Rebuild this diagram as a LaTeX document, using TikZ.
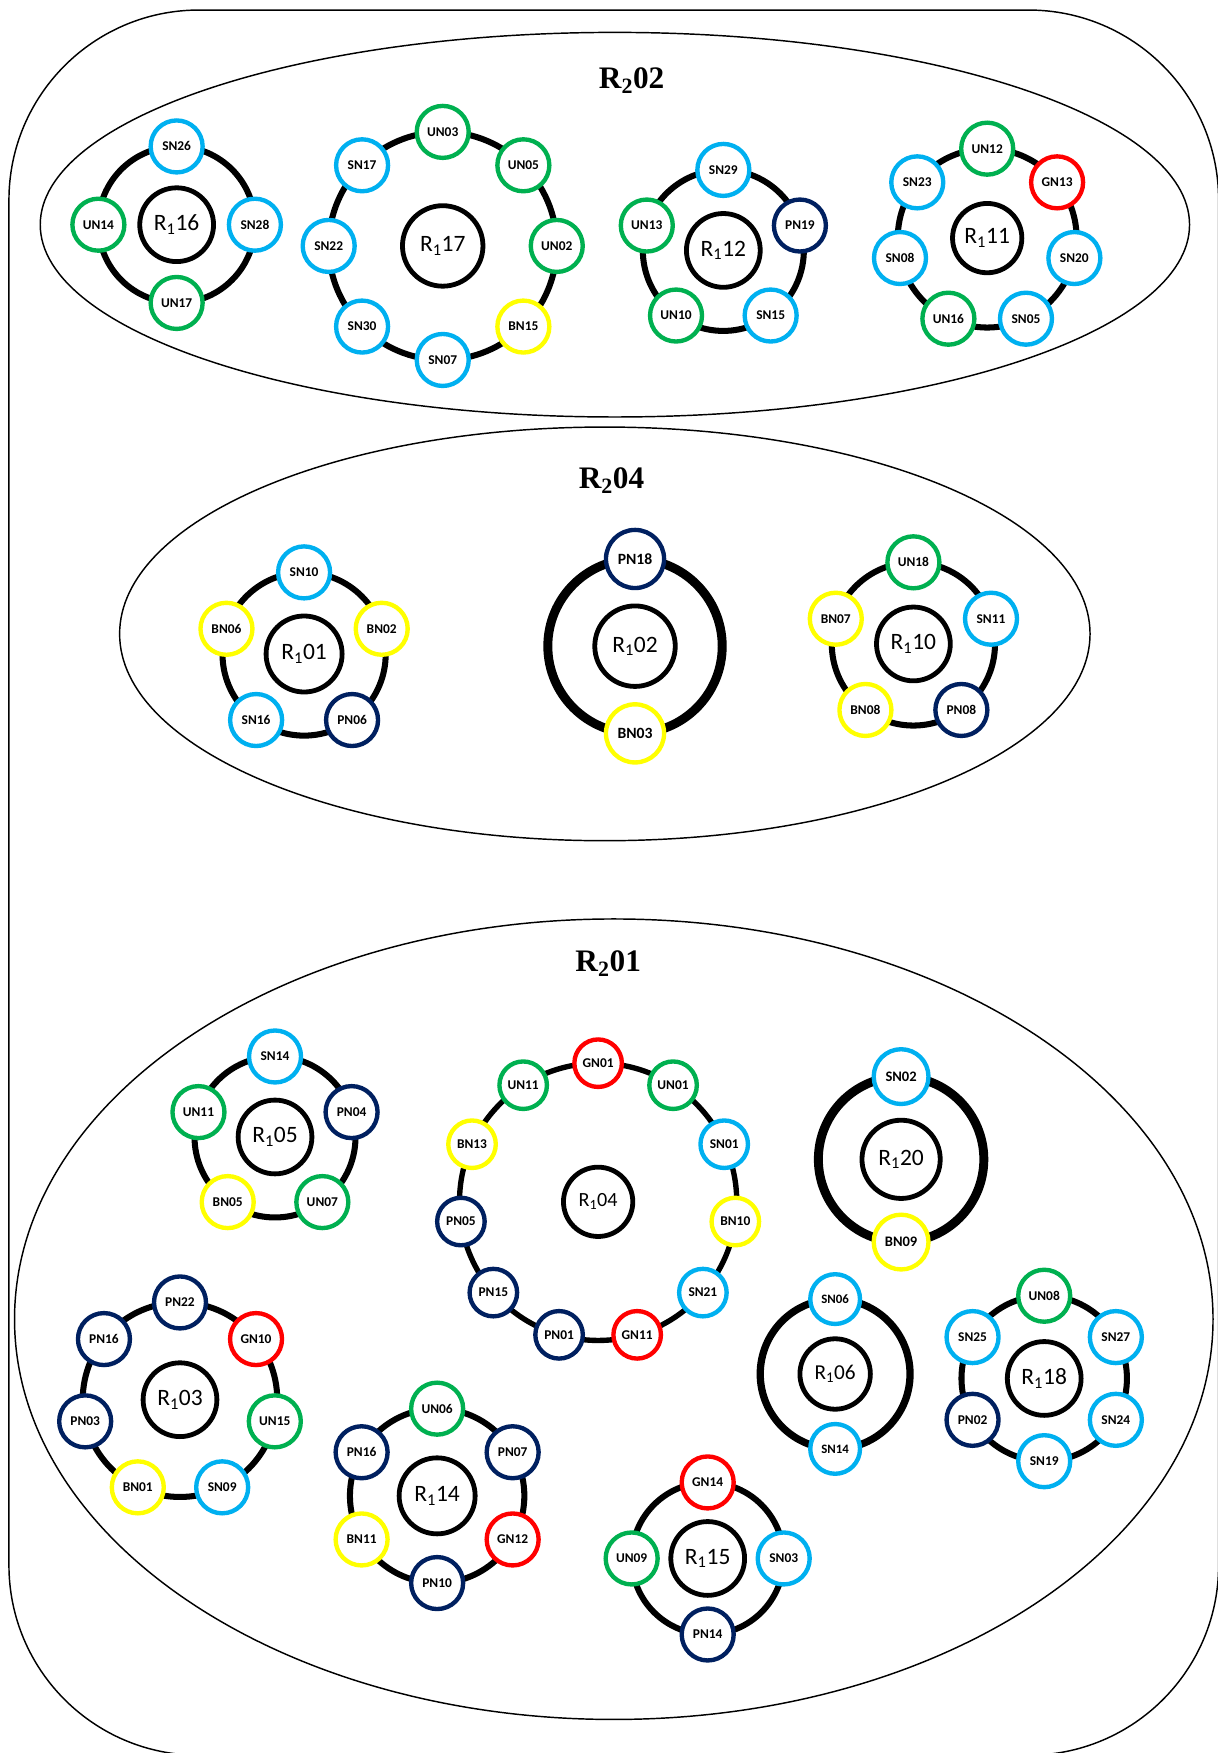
\documentclass[tikz,border=0pt]{standalone}
\usepackage{fontspec}
\setmainfont{Carlito}
\newfontfamily\titlefont{Liberation Serif}
\usetikzlibrary{shapes.geometric}

\definecolor{snblue}{HTML}{00B0F0}
\definecolor{ungreen}{HTML}{00B050}
\definecolor{pnnavy}{HTML}{002060}
\definecolor{bnyellow}{HTML}{FFFF00}
\definecolor{gnred}{HTML}{FF0000}

\newcommand{\rone}[1]{R\textsubscript{1}#1}
\newcommand{\rtwo}[1]{R\textsubscript{2}#1}

\begin{document}
\begin{tikzpicture}[
 x=1pt,y=1pt,
 outerframe/.style={draw,line width=1.3pt,rounded corners=170pt},
 region/.style={draw,ellipse,line width=1.3pt,inner sep=0pt},
 grouptitle/.style={font=\titlefont\bfseries\fontsize{28}{30}\selectfont},
 hub/.style={draw,circle,line width=4.3pt,inner sep=0pt,minimum size=66pt,font=\fontsize{21}{23}\selectfont},
 ring/.style={line width=5.4pt},
 fatring/.style={line width=8pt},
 member/.style={draw,circle,fill=white,line width=3.9pt,inner sep=0pt,minimum size=46.5pt,font=\bfseries\fontsize{12}{13}\selectfont},
 bigmember/.style={minimum size=52pt,font=\bfseries\fontsize{14}{15}\selectfont},
 smallmember/.style={minimum size=42.5pt},
 sn/.style={member,draw=snblue},
 un/.style={member,draw=ungreen},
 pn/.style={member,draw=pnnavy},
 bn/.style={member,draw=bnyellow},
 gn/.style={member,draw=gnred}
]
\useasboundingbox (0,0) rectangle (1089,1568);
\draw[outerframe] (8,-2) rectangle (1090,1559);

% groups
\node[region,minimum width=1028pt,minimum height=344pt] (g202) at (550,1367) {};
\node[region,minimum width=868pt,minimum height=370pt] (g204) at (541,1001) {};
\node[region,minimum width=1072pt,minimum height=716pt] (g201) at (549,388) {};
\node[grouptitle] (t202) at (565,1496) {\rtwo{02}};
\node[grouptitle] (t204) at (547,1138) {\rtwo{04}};
\node[grouptitle] (t201) at (544,706) {\rtwo{01}};

% R2 02
\node[hub] (r116) at (158,1367) {\rone{16}};
\draw[ring] (r116) circle[radius=70];
\node[sn] (sn26) at ([shift={(90:70)}]r116) {SN26};
\node[sn] (sn28) at ([shift={(0:70)}]r116) {SN28};
\node[un] (un17) at ([shift={(-90:70)}]r116) {UN17};
\node[un] (un14) at ([shift={(180:70)}]r116) {UN14};

\node[hub,minimum size=72pt] (r117) at (396,1348) {\rone{17}};
\draw[ring] (r117) circle[radius=102];
\node[un] (un03) at ([shift={(90:102)}]r117) {UN03};
\node[un] (un05) at ([shift={(45:102)}]r117) {UN05};
\node[un] (un02) at ([shift={(0:102)}]r117) {UN02};
\node[bn] (bn15) at ([shift={(-45:102)}]r117) {BN15};
\node[sn] (sn07) at ([shift={(-90:102)}]r117) {SN07};
\node[sn] (sn30) at ([shift={(-135:102)}]r117) {SN30};
\node[sn] (sn22) at ([shift={(180:102)}]r117) {SN22};
\node[sn] (sn17) at ([shift={(135:102)}]r117) {SN17};

\node[hub] (r112) at (647,1344) {\rone{12}};
\draw[ring] (r112) circle[radius=72];
\node[sn] (sn29) at ([shift={(90:72)}]r112) {SN29};
\node[pn] (pn19) at ([shift={(18:72)}]r112) {PN19};
\node[sn] (sn15) at ([shift={(-54:72)}]r112) {SN15};
\node[un] (un10) at ([shift={(-126:72)}]r112) {UN10};
\node[un] (un13) at ([shift={(162:72)}]r112) {UN13};

\node[hub,minimum size=62pt] (r111) at (883,1355) {\rone{11}};
\draw[ring] (r111) circle[radius=80];
\node[un] (un12) at ([shift={(90:80)}]r111) {UN12};
\node[gn] (gn13) at ([shift={(38.57:80)}]r111) {GN13};
\node[sn] (sn20) at ([shift={(-12.86:80)}]r111) {SN20};
\node[sn] (sn05) at ([shift={(-64.29:80)}]r111) {SN05};
\node[un] (un16) at ([shift={(-115.71:80)}]r111) {UN16};
\node[sn] (sn08) at ([shift={(192.86:80)}]r111) {SN08};
\node[sn] (sn23) at ([shift={(141.43:80)}]r111) {SN23};

% R2 04
\node[hub,minimum size=68pt] (r101) at (272,983) {\rone{01}};
\draw[ring] (r101) circle[radius=73];
\node[sn] (sn10) at ([shift={(90:73)}]r101) {SN10};
\node[bn] (bn02) at ([shift={(18:73)}]r101) {BN02};
\node[pn] (pn06) at ([shift={(-54:73)}]r101) {PN06};
\node[sn] (sn16) at ([shift={(-126:73)}]r101) {SN16};
\node[bn] (bn06) at ([shift={(162:73)}]r101) {BN06};

\node[hub,minimum size=72pt] (r102) at (568,990) {\rone{02}};
\draw[fatring] (r102) circle[radius=78];
\node[pn,bigmember] (pn18) at ([shift={(90:78)}]r102) {PN18};
\node[bn,bigmember] (bn03) at ([shift={(-90:78)}]r102) {BN03};

\node[hub] (r110) at (817,992) {\rone{10}};
\draw[ring] (r110) circle[radius=73];
\node[un] (un18) at ([shift={(90:73)}]r110) {UN18};
\node[sn] (sn11) at ([shift={(18:73)}]r110) {SN11};
\node[pn] (pn08) at ([shift={(-54:73)}]r110) {PN08};
\node[bn] (bn08) at ([shift={(-126:73)}]r110) {BN08};
\node[bn] (bn07) at ([shift={(162:73)}]r110) {BN07};

% R2 01
\node[hub] (r105) at (246,551) {\rone{05}};
\draw[ring] (r105) circle[radius=72];
\node[sn] (sn14) at ([shift={(90:72)}]r105) {SN14};
\node[pn] (pn04) at ([shift={(18:72)}]r105) {PN04};
\node[un] (un07) at ([shift={(-54:72)}]r105) {UN07};
\node[bn] (bn05) at ([shift={(-126:72)}]r105) {BN05};
\node[un] (un11) at ([shift={(162:72)}]r105) {UN11};

\node[hub,minimum size=62pt,font=\fontsize{18}{20}\selectfont] (r104) at (535,493) {\rone{04}};
\draw[ring,line width=4.8pt] (r104) circle[radius=124];
\node[gn,smallmember] (gn01) at ([shift={(90:124)}]r104) {GN01};
\node[un,smallmember] (un01) at ([shift={(57.27:124)}]r104) {UN01};
\node[sn,smallmember] (sn01) at ([shift={(24.55:124)}]r104) {SN01};
\node[bn,smallmember] (bn10) at ([shift={(-8.18:124)}]r104) {BN10};
\node[sn,smallmember] (sn21) at ([shift={(-40.91:124)}]r104) {SN21};
\node[gn,smallmember] (gn11) at ([shift={(-73.64:124)}]r104) {GN11};
\node[pn,smallmember] (pn01) at ([shift={(-106.36:124)}]r104) {PN01};
\node[pn,smallmember] (pn15) at ([shift={(-139.09:124)}]r104) {PN15};
\node[pn,smallmember] (pn05) at ([shift={(-171.82:124)}]r104) {PN05};
\node[bn,smallmember] (bn13) at ([shift={(155.45:124)}]r104) {BN13};
\node[un,smallmember] (un11b) at ([shift={(122.73:124)}]r104) {UN11};

\node[hub,minimum size=70pt] (r120) at (806,531) {\rone{20}};
\draw[fatring] (r120) circle[radius=74];
\node[sn,minimum size=49pt,font=\bfseries\fontsize{13}{14}\selectfont] (sn02) at ([shift={(90:74)}]r120) {SN02};
\node[bn,minimum size=49pt,font=\bfseries\fontsize{13}{14}\selectfont] (bn09) at ([shift={(-90:74)}]r120) {BN09};

\node[hub] (r103) at (161,316) {\rone{03}};
\draw[ring] (r103) circle[radius=87];
\node[pn] (pn22) at ([shift={(90:87)}]r103) {PN22};
\node[gn] (gn10) at ([shift={(38.57:87)}]r103) {GN10};
\node[un] (un15) at ([shift={(-12.86:87)}]r103) {UN15};
\node[sn] (sn09) at ([shift={(-64.29:87)}]r103) {SN09};
\node[bn] (bn01) at ([shift={(-115.71:87)}]r103) {BN01};
\node[pn] (pn03) at ([shift={(192.86:87)}]r103) {PN03};
\node[pn] (pn16) at ([shift={(141.43:87)}]r103) {PN16};

\node[hub,minimum size=68pt] (r114) at (391,230) {\rone{14}};
\draw[ring] (r114) circle[radius=78];
\node[un] (un06) at ([shift={(90:78)}]r114) {UN06};
\node[pn] (pn07) at ([shift={(30:78)}]r114) {PN07};
\node[gn] (gn12) at ([shift={(-30:78)}]r114) {GN12};
\node[pn] (pn10) at ([shift={(-90:78)}]r114) {PN10};
\node[bn] (bn11) at ([shift={(-150:78)}]r114) {BN11};
\node[pn] (pn16b) at ([shift={(150:78)}]r114) {PN16};

\node[hub] (r115) at (633,174) {\rone{15}};
\draw[ring] (r115) circle[radius=68];
\node[gn] (gn14) at ([shift={(90:68)}]r115) {GN14};
\node[sn] (sn03) at ([shift={(0:68)}]r115) {SN03};
\node[pn] (pn14) at ([shift={(-90:68)}]r115) {PN14};
\node[un] (un09) at ([shift={(180:68)}]r115) {UN09};

\node[hub,minimum size=63pt,font=\fontsize{19}{21}\selectfont] (r106) at (747,339) {\rone{06}};
\draw[fatring,line width=6.5pt] (r106) circle[radius=67];
\node[sn,minimum size=44.5pt,font=\bfseries\fontsize{11.5}{12}\selectfont] (sn06) at ([shift={(90:67)}]r106) {SN06};
\node[sn,minimum size=44.5pt,font=\bfseries\fontsize{11.5}{12}\selectfont] (sn14b) at ([shift={(-90:67)}]r106) {SN14};

\node[hub] (r118) at (934,335) {\rone{18}};
\draw[ring] (r118) circle[radius=74];
\node[un] (un08) at ([shift={(90:74)}]r118) {UN08};
\node[sn] (sn27) at ([shift={(30:74)}]r118) {SN27};
\node[sn] (sn24) at ([shift={(-30:74)}]r118) {SN24};
\node[sn] (sn19) at ([shift={(-90:74)}]r118) {SN19};
\node[pn] (pn02) at ([shift={(-150:74)}]r118) {PN02};
\node[sn] (sn25) at ([shift={(150:74)}]r118) {SN25};
\end{tikzpicture}
\end{document}
